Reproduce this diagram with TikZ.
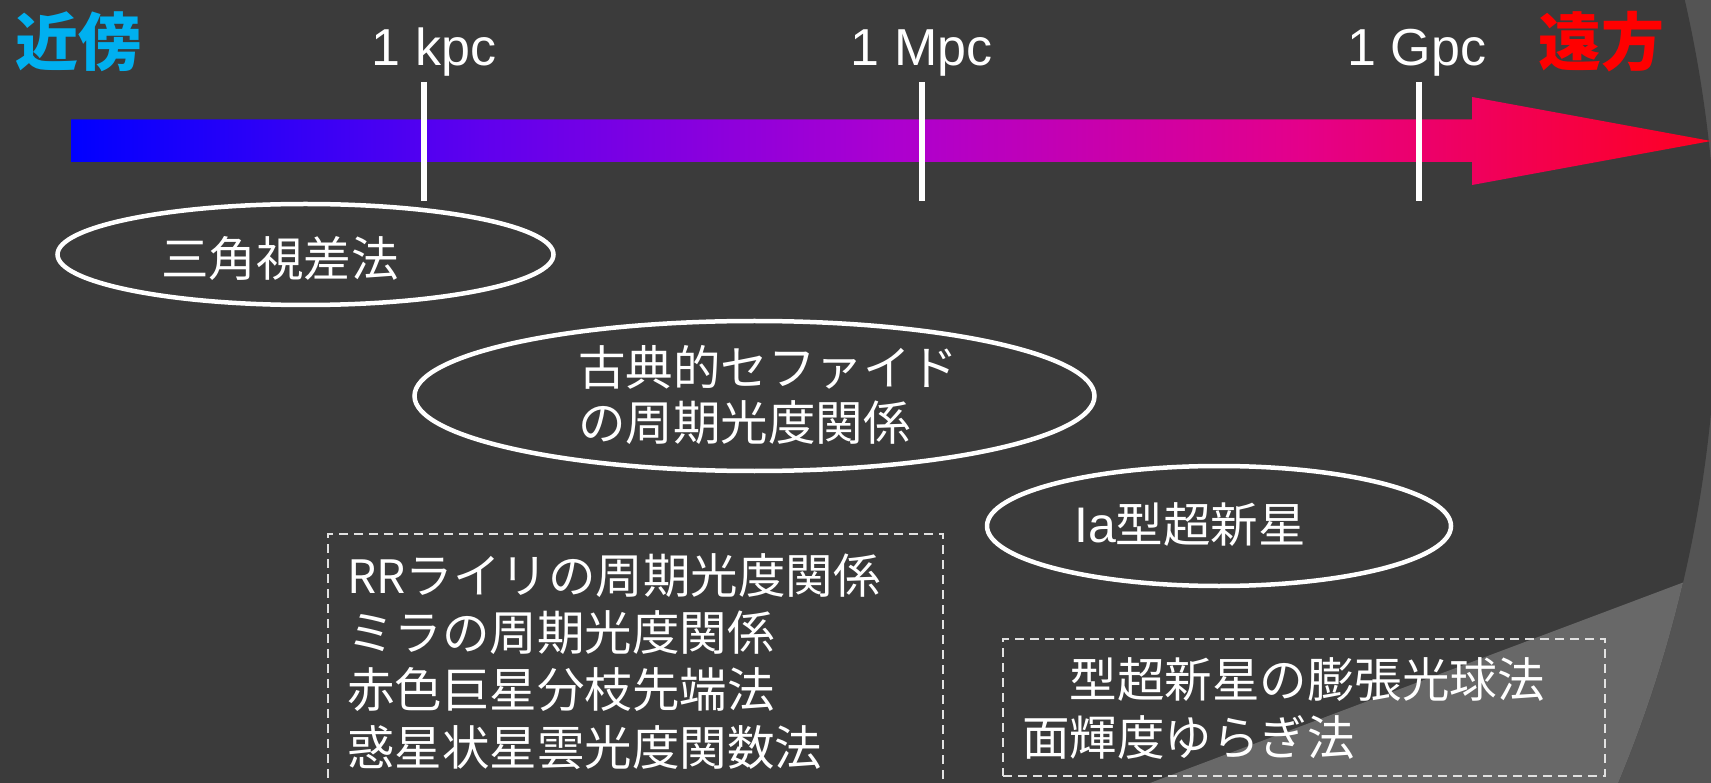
\documentclass[tikz,border=0pt]{standalone}
\usepackage{fontspec}
\setmainfont{Liberation Sans}
\newfontfamily\jp{Noto Sans CJK JP}
\usetikzlibrary{shapes.geometric}
\definecolor{bgdark}{RGB}{59,59,59}
\definecolor{bgouter}{RGB}{84,84,84}
\definecolor{bgwedge}{RGB}{104,104,104}
\definecolor{cblue}{RGB}{0,0,255}
\definecolor{cq1}{RGB}{95,0,238}
\definecolor{cmid}{RGB}{172,0,208}
\definecolor{cq3}{RGB}{228,0,138}
\definecolor{cred}{RGB}{255,0,32}
\definecolor{cnear}{RGB}{0,176,240}
\definecolor{cfar}{RGB}{255,0,0}
\definecolor{boxgray}{RGB}{225,225,225}
\pgfdeclarehorizontalshading{arrowgrad}{100bp}{color(0bp)=(cblue); color(25bp)=(cblue); color(37.5bp)=(cq1); color(50bp)=(cmid); color(62.5bp)=(cq3); color(75bp)=(cred); color(100bp)=(cred)}
\tikzset{
  oval/.style={ellipse, draw=white, line width=4.5pt, inner sep=0pt},
  jptext/.style={text=white, inner sep=0pt, anchor=base west, font=\jp\fontsize{47.5}{57}\selectfont},
  ticklab/.style={text=white, inner sep=0pt, anchor=base, font=\fontsize{52}{60}\selectfont},
  tickline/.style={draw=white, line width=6pt},
  dbox/.style={draw=boxgray, line width=2pt, dash pattern=on 9pt off 6pt, rectangle, inner sep=0pt, anchor=north west},
  bigword/.style={inner sep=0pt, anchor=base west, font=\jp\bfseries\fontsize{63}{70}\selectfont},
}
\begin{document}
\begin{tikzpicture}[x=1pt,y=-1pt]
\useasboundingbox (0,0) rectangle (1711,783);
% background
\fill[bgouter] (0,0) rectangle (1711,783);
\fill[bgdark] (430,287.5) circle (1287pt);
\begin{scope}
  \clip (430,287.5) circle (1287pt);
  \fill[bgwedge] (1150,783) -- (1711,572) -- (1711,783) -- cycle;
\end{scope}
% gradient arrow
\shade[shading=arrowgrad]
  (71,119.5) -- (1472,119.5) -- (1472,97) -- (1711,141) -- (1472,185) -- (1472,162) -- (71,162) -- cycle;
% ticks
\coordinate (k1) at (423.5,82);  \coordinate (k2) at (423.5,201);
\coordinate (m1) at (922,82);    \coordinate (m2) at (922,201);
\coordinate (g1) at (1418.5,82); \coordinate (g2) at (1418.5,201);
\draw[tickline] (k1) -- (k2);
\draw[tickline] (m1) -- (m2);
\draw[tickline] (g1) -- (g2);
\node[ticklab] (kpc) at (434,66) {1 kpc};
\node[ticklab] (mpc) at (921.5,66) {1 Mpc};
\node[ticklab] (gpc) at (1417,66) {1 Gpc};
% end words
\node[bigword, text=cnear] (near) at (15,66) {近傍};
\node[bigword, text=cfar] (far) at (1538,66) {遠方};
% ellipses
\node[oval, minimum width=496pt, minimum height=101pt] (e1) at (305.5,254.5) {};
\node[jptext] (t1) at (161,277) {三角視差法};
\node[oval, minimum width=680pt, minimum height=150pt] (e2) at (754.5,396) {};
\node[jptext] (t2a) at (578,386) {古典的セファイド};
\node[jptext] (t2b) at (578,440) {の周期光度関係};
\node[oval, minimum width=464pt, minimum height=120pt] (e3) at (1219,526) {};
\node[jptext] (t3) at (1074,542) {{\rmfamily\fontsize{50}{55}\selectfont Ia}型超新星};
% dashed boxes
\node[dbox, minimum width=615pt, minimum height=290pt] (box1) at (327,533) {};
\node[jptext] (b1a) at (347,593) {{\fontsize{46}{50}\selectfont RR}ライリの周期光度関係};
\node[jptext] (b1b) at (347,650) {ミラの周期光度関係};
\node[jptext] (b1c) at (347,707.5) {赤色巨星分枝先端法};
\node[jptext] (b1d) at (347,765) {惑星状星雲光度関数法};
\node[dbox, minimum width=602pt, minimum height=137pt] (box2) at (1002,638) {};
\node[jptext] (b2a) at (1022,697) {　型超新星の膨張光球法};
\node[jptext] (b2b) at (1022,755) {面輝度ゆらぎ法};
\end{tikzpicture}
\end{document}
